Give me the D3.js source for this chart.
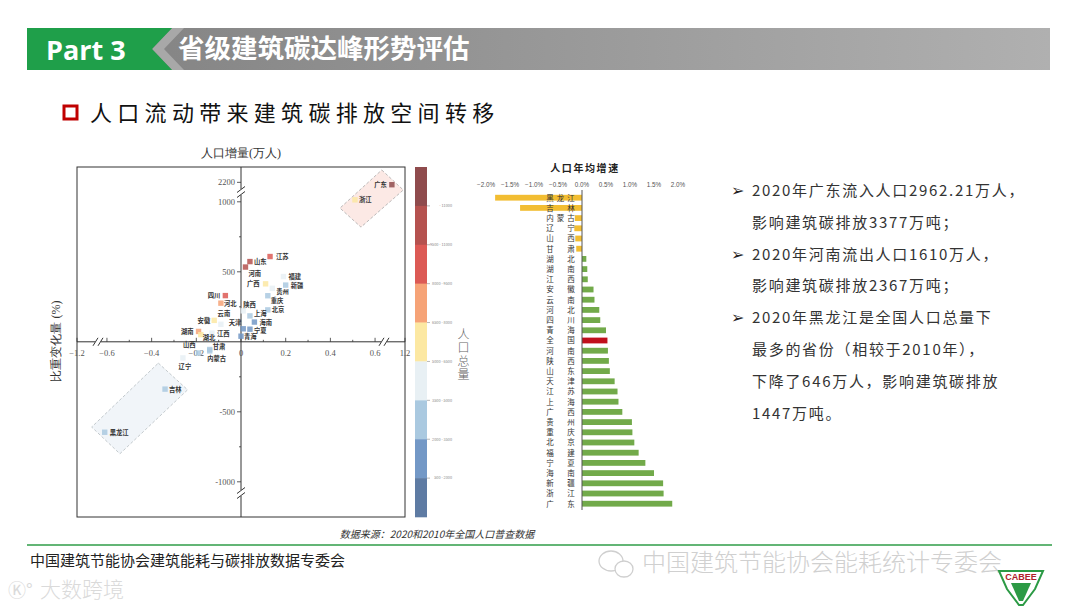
<!DOCTYPE html>
<html>
<head>
<meta charset="utf-8">
<title>人口流动带来建筑碳排放空间转移</title>
<script src="https://d3js.org/d3.v7.min.js"></script>
<style>
  body { margin: 0; background: #fff; }
  svg { display: block; }
  text { font-family: "Noto Sans CJK SC", "Noto Sans", sans-serif; }
  .serif { font-family: "Liberation Serif", "DejaVu Serif", serif; }
</style>
</head>
<body>
<svg id="chart" width="1080" height="608"></svg>
<script>
// ---- scatter: 比重变化量 (%) vs 人口增量 (万人)
const provinces = ["广东","浙江","江苏","山东","河南","广西","福建","新疆","贵州","重庆",
  "四川","河北","陕西","北京","云南","安徽","上海","天津","海南","宁夏",
  "湖南","江西","青海","湖北","山西","甘肃","内蒙古","辽宁","吉林","黑龙江"];
const shareChange = [0.85, 0.51, 0.13, 0.04, 0.02, 0.11, 0.19, 0.20, 0.14, 0.12,
  -0.07, -0.09, 0.01, 0.12, -0.09, -0.12, 0.04, 0.01, 0.06, 0.04,
  -0.19, -0.13, 0.00, -0.18, -0.19, -0.14, -0.14, -0.26, -0.34, -0.61];
const popIncrease = [2169, 1014, 609, 573, 534, 414, 466, 405, 382, 329,
  330, 276, 221, 228, 125, 153, 185, 93, 141, 90,
  74, 62, 40, 51, -80, -55, -65, -115, -338, -646];
const popTotal = [12601, 6457, 8475, 10153, 9937, 5013, 4154, 2585, 3856, 3205,
  8367, 7461, 3953, 2189, 4721, 6103, 2487, 1387, 1008, 720,
  6644, 4519, 592, 5775, 3492, 2502, 2405, 4259, 2407, 3185];

const shareTicks = [-1.2, -0.6, -0.4, -0.2, 0, 0.2, 0.4, 0.6, 1.2];
const shareMinor = [-0.5, -0.3, -0.1, 0.1, 0.3, 0.5];
const increaseTicks = [2200, 1000, 500, -500, -1000];
const increaseMinor = [750, 250, -250, -750];

// highlight boxes, corners in data units [share, increase]
const boxTop = [[0.63, 2361], [1.155, 2100], [0.537, 819], [0.443, 955]];
const boxBottom = [[-0.37, -152], [-0.239, -343], [-0.542, -800], [-0.808, -609]];

// colour legend 人口总量 (万人)
const popBreaks = [11000, 9500, 8000, 6500, 5000, 3500, 2000, 500];
const popBreakLabels = ["- 11000", "9500 - 11000", "8000 - 9500", "6500 - 8000",
  "5000 - 6500", "3500 - 5000", "2000 - 3500", "500 - 2000"];
const bandColors = ["#8f4b4d", "#b5524f", "#dc5a55", "#f6a377", "#fce8a2",
  "#e8f0f4", "#aac9e0", "#7398c6", "#5e7ba3"];

// ---- bar chart: 人口年均增速 (%)
const growthNames = ["黑龙江","吉林","内蒙古","辽宁","山西","甘肃","湖北","湖南","江西","安徽",
  "云南","河北","四川","青海","全国","河南","陕西","山东","天津","江苏",
  "上海","广西","贵州","重庆","北京","福建","宁夏","海南","新疆","浙江","广东"];
const growthRate = [-1.81, -1.29, -0.15, -0.16, -0.14, -0.12, 0.09, 0.11, 0.12, 0.24,
  0.26, 0.36, 0.38, 0.50, 0.53, 0.54, 0.56, 0.58, 0.68, 0.74,
  0.76, 0.84, 1.04, 1.05, 1.09, 1.18, 1.32, 1.50, 1.69, 1.70, 1.88];
const growthTicks = [-2, -1.5, -1, -0.5, 0, 0.5, 1, 1.5, 2];

// ---- notes on the right
const notes = [
  { bullet: true,  text: "2020年广东流入人口2962.21万人，" },
  { bullet: false, text: "影响建筑碳排放3377万吨；" },
  { bullet: true,  text: "2020年河南流出人口1610万人，" },
  { bullet: false, text: "影响建筑碳排放2367万吨；" },
  { bullet: true,  text: "2020年黑龙江是全国人口总量下" },
  { bullet: false, text: "最多的省份（相较于2010年），" },
  { bullet: false, text: "下降了646万人，影响建筑碳排放" },
  { bullet: false, text: "1447万吨。" }
];

// label placement next to each square: [dx, dy, anchor]
const labelPos = {
  "广东": [-5, 2.5, "end"], "浙江": [4, 2.5, "start"], "江苏": [6, 2.5, "start"],
  "山东": [4, 2.5, "start"], "河南": [3, 9, "start"], "广西": [-6, 2.5, "end"],
  "福建": [5, 2.5, "start"], "新疆": [5, 2.5, "start"], "贵州": [4, 5.8, "start"],
  "重庆": [3, 7, "start"], "四川": [-5, 2.5, "end"], "河北": [3, 2.5, "start"],
  "陕西": [0, -4, "start"], "北京": [4, 2.5, "start"], "云南": [3, -8, "middle"],
  "安徽": [-4, 2.5, "end"], "上海": [4, 0.5, "start"], "天津": [-2, -4, "end"],
  "海南": [5, 2.5, "start"], "宁夏": [4, 3.5, "start"], "湖南": [-5, 2.5, "end"],
  "江西": [5, 2.5, "start"], "青海": [3, 3, "start"], "湖北": [2, 5, "start"],
  "山西": [-3, -6, "end"], "甘肃": [3, -1, "start"], "内蒙古": [7, 10, "middle"],
  "辽宁": [2, 11, "middle"], "吉林": [4, 2.5, "start"], "黑龙江": [5, 2.5, "start"]
};

const svg = d3.select("#chart");

// ================= header =================
const defs = svg.append("defs");
const grad = defs.append("linearGradient").attr("id", "hdr");
grad.append("stop").attr("offset", "0%").attr("stop-color", "#858585");
grad.append("stop").attr("offset", "100%").attr("stop-color", "#b0b0b0");

svg.append("rect").attr("x", 150).attr("y", 28).attr("width", 900).attr("height", 42)
  .attr("fill", "url(#hdr)");
svg.append("polygon")
  .attr("points", "152,49 172,28 184,28 164,49 184,70 172,70")
  .attr("fill", "#a8a8a8");
svg.append("polygon")
  .attr("points", "27,28 172,28 152,49 172,70 27,70")
  .attr("fill", "#1f9f4a");
svg.append("text").attr("x", 46).attr("y", 59.5)
  .style("font-family", "'Open Sans', sans-serif").style("font-weight", 700)
  .style("font-size", "27px").attr("fill", "#fff").text("Part 3");
svg.append("text").attr("x", 178).attr("y", 58)
  .style("font-weight", 700).style("font-size", "26.5px").attr("fill", "#fff")
  .text("省级建筑碳达峰形势评估");

// subtitle
svg.append("rect").attr("x", 64).attr("y", 106).attr("width", 13).attr("height", 13)
  .attr("fill", "#fff").attr("stroke", "#c00000").attr("stroke-width", 3);
svg.append("text").attr("x", 90).attr("y", 121)
  .style("font-size", "22px").style("letter-spacing", "5.3px").attr("fill", "#111")
  .text("人口流动带来建筑碳排放空间转移");

// ================= scatter =================
const frame = { left: 77, right: 405, top: 167, bottom: 517 };
const x = d3.scaleLinear()
  .domain([-1.2, -0.64, 0.64, 1.2])
  .range([frame.left, 98, 384, frame.right]);
const y = d3.scaleLinear()
  .domain([-1300, -1080, 1070, 2100, 2400])
  .range([frame.bottom, 493, 192, 190, frame.top]);
const x0 = x(0), y0 = y(0);

const sc = svg.append("g");

// highlight boxes
const boxLine = d3.line().x(d => x(d[0])).y(d => y(d[1])).curve(d3.curveLinearClosed);
sc.append("path").attr("d", boxLine(boxTop))
  .attr("fill", "#fbe3df").attr("fill-opacity", 0.8)
  .attr("stroke", "#aaa").attr("stroke-width", 0.8).attr("stroke-dasharray", "3,2");
sc.append("path").attr("d", boxLine(boxBottom))
  .attr("fill", "#edf3f8").attr("fill-opacity", 0.8)
  .attr("stroke", "#b5bcc0").attr("stroke-width", 0.8).attr("stroke-dasharray", "3,2");

// frame
sc.append("rect").attr("x", frame.left).attr("y", frame.top)
  .attr("width", frame.right - frame.left).attr("height", frame.bottom - frame.top)
  .attr("fill", "none").attr("stroke", "#333").attr("stroke-width", 1);

// x axis
const xAxis = sc.append("g").attr("transform", `translate(0,${y0})`);
xAxis.append("line").attr("x1", frame.left).attr("x2", frame.right)
  .attr("stroke", "#333").attr("stroke-width", 1);
xAxis.selectAll(".xt").data(shareTicks).join("line")
  .attr("x1", d => x(d)).attr("x2", d => x(d)).attr("y1", 0).attr("y2", -4)
  .attr("stroke", "#333").attr("stroke-width", 0.8);
xAxis.selectAll(".xm").data(shareMinor).join("line")
  .attr("x1", d => x(d)).attr("x2", d => x(d)).attr("y1", 0).attr("y2", -2)
  .attr("stroke", "#333").attr("stroke-width", 0.8);
xAxis.selectAll(".xl").data(shareTicks).join("text")
  .attr("class", "serif").attr("x", d => x(d)).attr("y", 14)
  .attr("text-anchor", "middle").style("font-size", "8.5px").attr("fill", "#555")
  .text(d => d === 0 ? "0" : d3.format(".1f")(d));

// y axis
const yAxis = sc.append("g").attr("transform", `translate(${x0},0)`);
yAxis.append("line").attr("y1", frame.top).attr("y2", frame.bottom)
  .attr("stroke", "#333").attr("stroke-width", 1);
yAxis.selectAll(".yt").data(increaseTicks).join("line")
  .attr("y1", d => y(d)).attr("y2", d => y(d)).attr("x1", 0).attr("x2", -4)
  .attr("stroke", "#333").attr("stroke-width", 0.8);
yAxis.selectAll(".ym").data(increaseMinor).join("line")
  .attr("y1", d => y(d)).attr("y2", d => y(d)).attr("x1", 0).attr("x2", -2)
  .attr("stroke", "#333").attr("stroke-width", 0.8);
yAxis.selectAll(".yl").data(increaseTicks).join("text")
  .attr("class", "serif").attr("x", -6).attr("y", d => y(d) + 3)
  .attr("text-anchor", "end").style("font-size", "8.5px").attr("fill", "#555")
  .text(d => d);

// axis breaks
function breakMark(cx, cy, vertical) {
  const g = sc.append("g").attr("transform", `translate(${cx},${cy})`);
  if (vertical) {
    g.append("rect").attr("x", -1.5).attr("y", -3).attr("width", 3).attr("height", 6).attr("fill", "#fff");
    [-2.5, 2.5].forEach(o => g.append("line")
      .attr("x1", -4).attr("y1", o + 3).attr("x2", 4).attr("y2", o - 3)
      .attr("stroke", "#333").attr("stroke-width", 1));
  } else {
    g.append("rect").attr("x", -3).attr("y", -1.5).attr("width", 6).attr("height", 3).attr("fill", "#fff");
    [-2.5, 2.5].forEach(o => g.append("line")
      .attr("x1", o - 2.5).attr("y1", 4).attr("x2", o + 2.5).attr("y2", -4)
      .attr("stroke", "#333").attr("stroke-width", 1));
  }
}
breakMark(x0, y(1070), true);
breakMark(x0, y(-1080), true);
breakMark(x(-0.64), y0, false);
breakMark(x(0.64), y0, false);

// axis titles
svg.append("text").attr("class", "serif").attr("x", x0).attr("y", 157)
  .attr("text-anchor", "middle").style("font-size", "12px").attr("fill", "#333")
  .text("人口增量(万人)");
svg.append("text").attr("class", "serif")
  .attr("transform", `translate(60,341) rotate(-90)`)
  .attr("text-anchor", "middle").style("font-size", "12px").attr("fill", "#333")
  .text("比重变化量 (%)");

const bandOf = p => popBreaks.filter(b => b > p).length;

const pts = provinces.map((name, i) => ({
  name, sx: shareChange[i], iy: popIncrease[i], pop: popTotal[i]
}));

sc.selectAll(".pt").data(pts).join("rect")
  .attr("x", d => x(d.sx) - 2.7).attr("y", d => y(d.iy) - 2.7)
  .attr("width", 5.4).attr("height", 5.4)
  .attr("fill", d => bandColors[bandOf(d.pop)]).attr("fill-opacity", 0.85);

sc.selectAll(".pl").data(pts).join("text")
  .attr("x", d => x(d.sx) + labelPos[d.name][0])
  .attr("y", d => y(d.iy) + labelPos[d.name][1])
  .attr("text-anchor", d => labelPos[d.name][2])
  .style("font-size", "6.3px").style("font-weight", 700).attr("fill", "#333")
  .text(d => d.name);

// ================= colour legend =================
const cb = d3.scaleBand().domain(d3.range(bandColors.length)).range([frame.top, frame.bottom]);
const leg = svg.append("g");
leg.selectAll("rect").data(bandColors).join("rect")
  .attr("x", 415).attr("y", (d, i) => cb(i)).attr("width", 12)
  .attr("height", cb.bandwidth() + 0.3).attr("fill", d => d);
leg.selectAll(".tk").data(popBreakLabels).join("line")
  .attr("x1", 427).attr("x2", 430)
  .attr("y1", (d, i) => cb(i + 1)).attr("y2", (d, i) => cb(i + 1))
  .attr("stroke", "#888").attr("stroke-width", 0.6);
leg.selectAll(".lb").data(popBreakLabels).join("text")
  .attr("x", 452).attr("y", (d, i) => cb(i + 1) + 1.3)
  .attr("text-anchor", "end").style("font-size", "3.8px").attr("fill", "#888")
  .text(d => d);
leg.append("text").attr("x", 463.5).attr("y", 328)
  .style("writing-mode", "vertical-rl").style("font-size", "12px")
  .style("letter-spacing", "1.5px").style("font-weight", 300)
  .attr("fill", "#666").text("人口总量");

// ================= growth bars =================
const xb = d3.scaleLinear().domain([-2, 2]).range([486, 678]);
const yb = d3.scalePoint().domain(growthNames).range([197.7, 503.7]);
const bars = svg.append("g");

bars.append("text").attr("x", xb(0) + 3).attr("y", 172)
  .attr("text-anchor", "middle").style("font-size", "10px").style("font-weight", 700)
  .attr("fill", "#222").style("letter-spacing", "1.6px").text("人口年均增速");
bars.selectAll(".gt").data(growthTicks).join("text")
  .attr("x", d => xb(d)).attr("y", 186.5).attr("text-anchor", "middle")
  .style("font-family", "'Liberation Sans', sans-serif")
  .style("font-size", "6.3px").attr("fill", "#555")
  .text(d => d3.format(".1f")(d) + "%");

const gdata = growthNames.map((n, i) => ({ n, v: growthRate[i] }));
bars.selectAll(".bar").data(gdata).join("rect")
  .attr("x", d => Math.min(xb(0), xb(d.v)))
  .attr("width", d => Math.abs(xb(d.v) - xb(0)))
  .attr("y", d => yb(d.n) - 2.9).attr("height", 5.8)
  .attr("fill", d => d.n === "全国" ? "#c0101c" : (d.v < 0 ? "#f2bd32" : "#72aa4a"));

bars.append("line").attr("x1", xb(0)).attr("x2", xb(0)).attr("y1", 190).attr("y2", 510)
  .attr("stroke", "#555").attr("stroke-width", 1);

// category names spread between two columns
gdata.forEach(d => {
  const chars = Array.from(d.n);
  const step = chars.length > 1 ? 21 / (chars.length - 1) : 0;
  chars.forEach((c, k) => {
    bars.append("text").attr("x", 550 + k * step).attr("y", yb(d.n) + 2.8)
      .attr("text-anchor", "middle").style("font-size", "7.5px")
      .attr("fill", "#333").text(c);
  });
});

// ================= notes =================
const nt = svg.append("g");
notes.forEach((d, i) => {
  const yy = 196 + i * 31.8;
  if (d.bullet) {
    nt.append("text").attr("x", 731).attr("y", yy)
      .style("font-family", "'DejaVu Sans', sans-serif")
      .style("font-size", "16px").attr("fill", "#222").text("➢");
  }
  nt.append("text").attr("x", 752).attr("y", yy)
    .style("font-size", "15px").style("letter-spacing", "1.7px")
    .attr("fill", "#333").text(d.text);
});

// ================= footer =================
svg.append("text").attr("x", 437).attr("y", 538).attr("text-anchor", "middle")
  .style("font-size", "10px").style("font-style", "italic").attr("fill", "#333")
  .text("数据来源：2020和2010年全国人口普查数据");
svg.append("line").attr("x1", 27).attr("x2", 1052).attr("y1", 545).attr("y2", 545)
  .attr("stroke", "#2f9c47").attr("stroke-width", 1.5);
svg.append("text").attr("x", 30).attr("y", 566)
  .style("font-size", "15px").attr("fill", "#222")
  .text("中国建筑节能协会建筑能耗与碳排放数据专委会");

// watermarks
const wm = svg.append("g").attr("fill", "none").attr("stroke", "#cfcfcf").attr("stroke-width", 1.3);
wm.append("ellipse").attr("cx", 611).attr("cy", 561).attr("rx", 12).attr("ry", 10);
wm.append("ellipse").attr("cx", 624).attr("cy", 569).attr("rx", 9).attr("ry", 8).attr("fill", "#fff");
svg.append("text").attr("x", 642).attr("y", 571)
  .style("font-size", "24px").style("font-weight", 300).attr("fill", "#d0d0d0")
  .text("中国建筑节能协会能耗统计专委会");
svg.append("text").attr("x", 40).attr("y", 597)
  .style("font-size", "21px").style("font-weight", 300).attr("fill", "#dadada")
  .text("大数跨境");
svg.append("text").attr("x", 8).attr("y", 597)
  .style("font-size", "18px").attr("fill", "#dadada").text("Ⓚ°");

// CABEE mark
const logo = svg.append("g").attr("transform", "translate(1021,583)");
logo.append("path").attr("d", "M-22,-12 L22,-12 L14,6 L2,22 L-2,22 L-14,6 Z")
  .attr("fill", "#fff").attr("stroke", "#2c9a45").attr("stroke-width", 2);
logo.append("path").attr("d", "M-10,0 L10,0 L2,18 L-2,18 Z").attr("fill", "#2c9a45");
logo.append("text").attr("x", 0).attr("y", -3).attr("text-anchor", "middle")
  .style("font-family", "'Liberation Sans', sans-serif").style("font-weight", 700)
  .style("font-size", "9px").attr("fill", "#b0202a").text("CABEE");
</script>
</body>
</html>
